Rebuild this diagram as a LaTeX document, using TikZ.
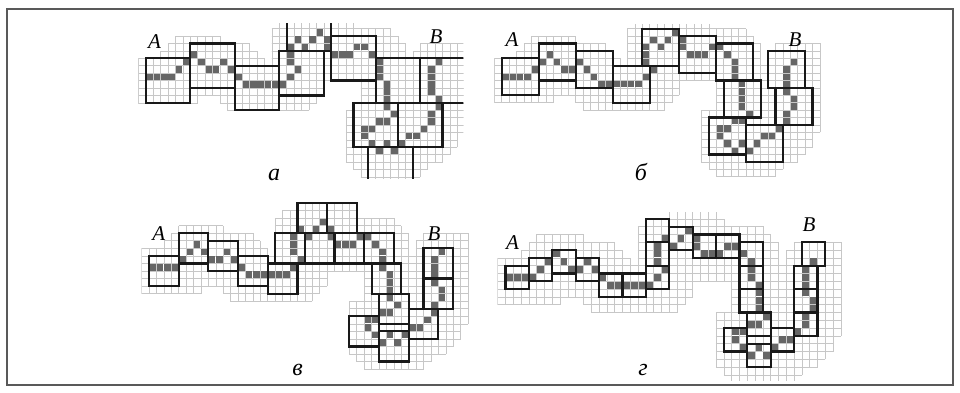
\documentclass[tikz,border=0pt]{standalone}
\usepackage{fontspec}
\setmainfont{Liberation Serif}
\tikzset{
  gridl/.style={draw=black!22, line width=0.55pt, step=1},
  boxl/.style={draw=black!90, line width=2.2pt},
  pathc/.style={fill=black!60},
  frm/.style={draw=black!65, line width=1.7pt},
  capl/.style={anchor=base, inner sep=0pt, font=\fontsize{21}{21}\selectfont\itshape},
  pl/.style={anchor=base, inner sep=0pt, font=\fontsize{24}{24}\selectfont\itshape},
}
\def\pathcells{0/2,1/2,2/2,3/2,4/1,5/0,6/-1,7/0,8/1,9/1,10/0,11/1,12/2,13/3,14/3,15/3,16/3,17/3,18/3,19/2,20/1,19/0,19/-1,19/-2,20/-3,21/-2,22/-3,23/-4,24/-3,24/-2,25/-1,26/-1,27/-1,28/-2,29/-2,30/-1,31/0,31/1,31/2,32/3,32/4,32/5,32/6,33/7,32/8,31/8,30/9,29/9,29/10,30/11,31/12,32/11,33/12,34/11,35/10,36/10,37/9,38/8,38/7,39/6,39/5,38/4,38/3,38/2,38/1,39/0}
% #1 box size, #2 box list; halo: 2 cells left/up, 3 cells right/down
\newcommand\drawpanel[2]{%
  \foreach \i/\j in \pathcells {\draw[gridl] ({\i-2-0.02},{-(\j)-4-0.02}) grid ({\i+4+0.02},{-(\j)+2+0.02});}%
  \foreach \i/\j in {#2} {\draw[gridl] ({\i-0.02},{-(\j)-#1-0.02}) grid ({\i+#1+0.02},{-(\j)+0.02});}%
  \foreach \i/\j in \pathcells {\fill[pathc] ({\i+0.06},{-(\j)-0.94}) rectangle ({\i+0.94},{-(\j)-0.06});}%
  \foreach \i/\j in {#2} {\draw[boxl] (\i,{-(\j)-#1}) rectangle ({\i+#1},{-(\j)});}%
}
\begin{document}
\begin{tikzpicture}
\useasboundingbox (0pt,0pt) rectangle (960pt,-392pt);
\fill[white] (0pt,0pt) rectangle (960pt,-392pt);
\draw[frm] (6.7pt,-8.7pt) rectangle (953.3pt,-385pt);

% panel a
\begin{scope}
  \clip (138.3pt,-23pt) rectangle (463.3pt,-178pt);
  \begin{scope}[shift={(145.7pt,-58.3pt)},x=7.42pt,y=7.42pt]
    \drawpanel{6}{0/0,6/-2,12/1,18/-1,19/-7,25/-3,31/0,37/0,28/6,34/6,30/12}
  \end{scope}
\end{scope}
\node[capl] (Aa) at (154.5pt,-48.3pt) {A};
\node[capl] (Ba) at (436pt,-43.3pt) {B};
\node[pl] (la) at (274pt,-180pt) {а};

% panel b
\begin{scope}
  \clip (494.3pt,-24pt) rectangle (850pt,-190pt);
  \begin{scope}[shift={(501.7pt,-58.3pt)},x=7.4pt,y=7.4pt]
    \drawpanel{5}{0/0,5/-2,10/-1,15/1,19/-4,24/-3,29/-2,30/3,28/8,33/9,37/4,36/-1}
  \end{scope}
\end{scope}
\node[capl] (Ab) at (512pt,-46.7pt) {A};
\node[capl] (Bb) at (795pt,-46.7pt) {B};
\node[pl] (lb) at (641pt,-180pt) {б};

% panel v
\begin{scope}
  \clip (141.6pt,-200pt) rectangle (480pt,-380pt);
  \begin{scope}[shift={(149pt,-248.3pt)},x=7.42pt,y=7.55pt]
    \drawpanel{4}{0/1,4/-2,8/-1,12/1,16/2,17/-2,20/-6,24/-6,21/-2,25/-2,29/-2,30/2,31/6,31/11,27/9,35/8,37/0,37/4}
    \draw[boxl] (31,-11) rectangle (35,-10);
  \end{scope}
\end{scope}
\node[capl] (Av) at (158.8pt,-240pt) {A};
\node[capl] (Bv) at (434pt,-240pt) {B};
\node[pl] (lv) at (297.5pt,-375pt) {в};

% panel g
\begin{scope}
  \clip (497.7pt,-212pt) rectangle (850pt,-380pt);
  \begin{scope}[shift={(505.5pt,-257.8pt)},x=7.8pt,y=7.8pt]
    \drawpanel{3}{0/1,3/0,6/-1,9/0,12/2,15/2,18/1,18/-2,18/-5,21/-4,24/-3,27/-3,30/-2,30/1,30/4,31/7,28/9,31/11,34/9,37/7,37/4,37/1,38/-2}
    \draw[boxl] (31,-11) rectangle (34,-10);
  \end{scope}
\end{scope}
\node[capl] (Ag) at (512.5pt,-249pt) {A};
\node[capl] (Bg) at (809pt,-231.7pt) {B};
\node[pl] (lg) at (643pt,-375pt) {г};
\end{tikzpicture}
\end{document}
